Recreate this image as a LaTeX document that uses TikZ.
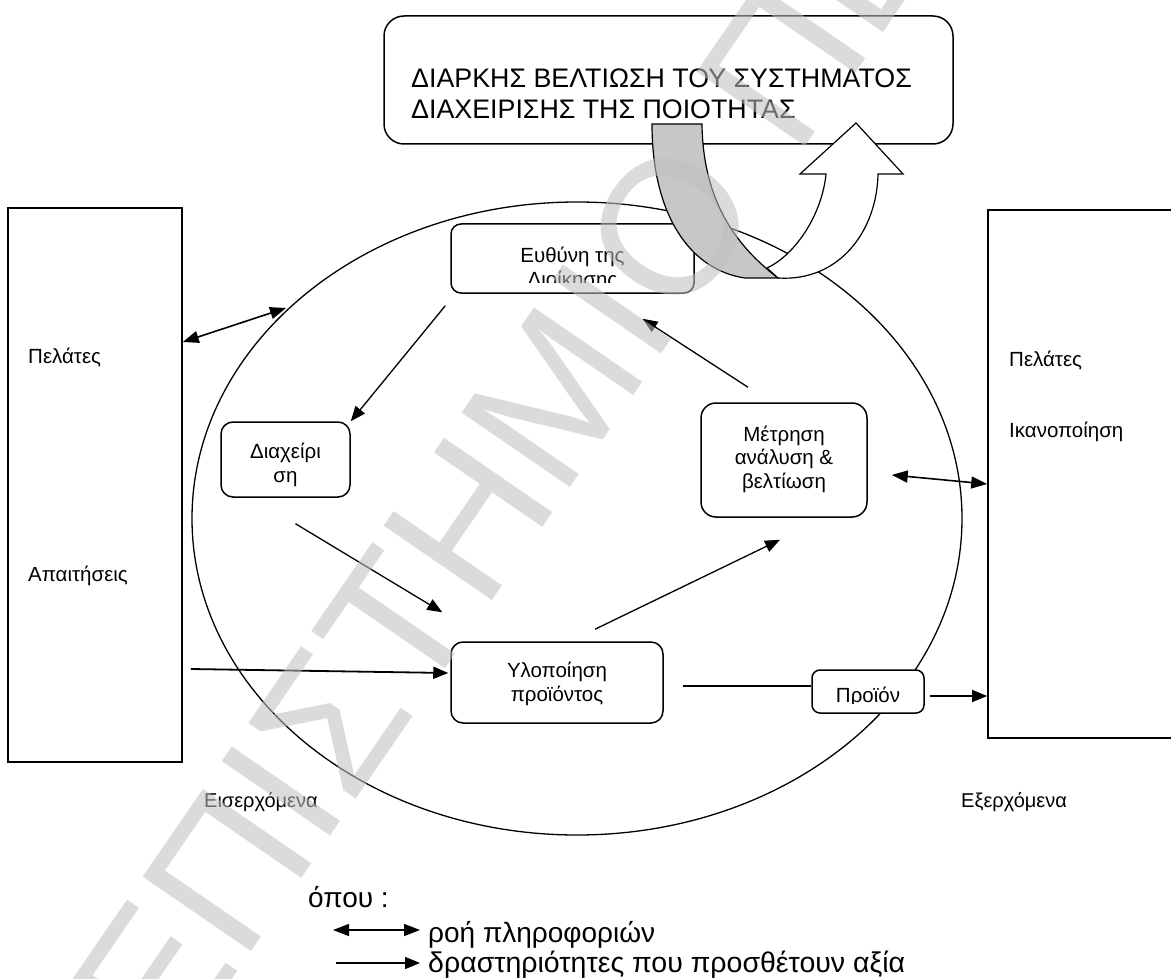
\documentclass[tikz,border=0pt]{standalone}
\usepackage{fontspec}
\setmainfont{Liberation Sans}
\usetikzlibrary{arrows.meta}

\definecolor{bandgray}{gray}{0.78}
\definecolor{markgray}{gray}{0.75}
\newcommand{\txtsize}{\fontsize{20.5}{23.5}\selectfont}

\begin{document}
\begin{tikzpicture}[x=1pt,y=-1pt,
    box/.style={draw, line width=1.5pt, fill=white, rounded corners=#1, inner sep=0pt},
    frame/.style={draw, line width=1.6pt, inner sep=0pt},
    lbl/.style={anchor=base west, inner sep=0pt, font=\txtsize},
    txt/.style={align=center, inner sep=0pt, font=\txtsize},
    flow/.style={line width=1.3pt, -{Triangle[length=15pt,width=12pt]}},
    info/.style={line width=1.6pt, {Triangle[length=16pt,width=12pt]}-{Triangle[length=16pt,width=12pt]}}]
    \clip (0,0) rectangle (1171,979);

    % title box
    \node[box=20pt, minimum width=569pt, minimum height=128pt] (title) at (668.5,80) {};
    \node[anchor=north west, align=left, inner sep=0pt, font=\fontsize{26.8}{31}\selectfont] (title-t) at (411,69)
        {ΔΙΑΡΚΗΣ ΒΕΛΤΙΩΣΗ ΤΟΥ ΣΥΣΤΗΜΑΤΟΣ\\ΔΙΑΧΕΙΡΙΣΗΣ ΤΗΣ ΠΟΙΟΤΗΤΑΣ};

    % the cycle
    \draw[line width=1.3pt] (577,518.5) ellipse [x radius=385, y radius=316.5];

    % customers left and right
    \node[frame, minimum width=174pt, minimum height=554pt] (lrect) at (95,485) {};
    \node[frame, minimum width=197pt, minimum height=528pt] (rrect) at (1086.5,474) {};
    \node[lbl] (pel-l) at (28,363) {Πελάτες};
    \node[lbl] (apait) at (28,581) {Απαιτήσεις};
    \node[lbl] (pel-r) at (1009,366) {Πελάτες};
    \node[lbl] (ikan) at (1009,437) {Ικανοποίηση};
    \node[lbl, font=\fontsize{20}{23}\selectfont] (eiser) at (204,807) {Εισερχόμενα};
    \node[lbl, font=\fontsize{20}{23}\selectfont] (exer) at (961,807) {Εξερχόμενα};

    % process boxes
    \node[box=10pt, minimum width=243pt, minimum height=69pt] (eythyni) at (572.5,258.5) {};
    \node[box=12pt, minimum width=129pt, minimum height=75pt] (diax) at (285.5,459.5) {};
    \node[box=15pt, minimum width=166pt, minimum height=114pt] (metr) at (784,460) {};
    \node[box=12pt, minimum width=212pt, minimum height=81pt] (ylop) at (557,682.5) {};
    \node[box=8pt, minimum width=112pt, minimum height=43pt] (proion) at (868,691.5) {};

    \begin{scope}
        \clip (eythyni.north west) rectangle ([shift={(0,-11)}]eythyni.south east);
        \node[txt] (eythyni-t) at (572.5,269) {Ευθύνη της\\Διοίκησης};
    \end{scope}
    \node[txt] (diax-t) at (285.5,465) {Διαχείρι\\ση};
    \node[txt] (metr-t) at (784,459) {Μέτρηση\\ανάλυση \&\\βελτίωση};
    \node[txt] (ylop-t) at (557,684) {Υλοποίηση\\προϊόντος};
    \begin{scope}
        \clip (proion.north west) rectangle ([shift={(0,-10)}]proion.south east);
        \node[txt, anchor=base] (proion-t) at (868,702) {Προϊόν};
    \end{scope}

    % arrows
    \coordinate (ellL) at (286,308);
    \draw[info] (lrect.east |- 0,342) -- (ellL);
    \draw[info] ([shift={(24,15)}]metr.east) -- ([shift={(0,10)}]rrect.west);
    \draw[flow] ([shift={(-5,12)}]eythyni.south west) -- (diax.north east);
    \draw[flow] ([shift={(10,26)}]diax.south) -- ([shift={(-8,-29)}]ylop.north west);
    \draw[flow] ([shift={(38,-12)}]ylop.north) -- ([shift={(-4,22)}]metr.south);
    \draw[flow] ([shift={(-36,-15)}]metr.north) -- ([shift={(70,25)}]eythyni.south);
    \draw[flow, line width=1.8pt] ([shift={(8,184)}]lrect.east) -- ([shift={(-2,-9.5)}]ylop.west);
    \draw[line width=1.3pt] ([shift={(19,3.5)}]ylop.east) -- ([shift={(0,-5.5)}]proion.west);
    \draw[flow] ([shift={(5,4.5)}]proion.east) -- ([shift={(0,222)}]rrect.west);

    % curved arrow
    \filldraw[fill=bandgray, line width=1.2pt] (652,124) .. controls (652,215) and (690,270) .. (745,278)
        -- (778,278) .. controls (735,245) and (703,200) .. (702,124) -- cycle;
    \filldraw[fill=white, line width=1.2pt] (778,278) .. controls (840,282) and (877,230) .. (878,174)
        -- (903,174) -- (856,123) -- (800,174) -- (826,174)
        .. controls (822,215) and (795,255) .. (767,268) -- cycle;

    % legend
    \node[lbl, font=\fontsize{28}{31}\selectfont] (opou) at (308,907) {όπου :};
    \node[lbl, font=\fontsize{28}{31}\selectfont] (lg1) at (428,942) {ροή πληροφοριών};
    \node[lbl, font=\fontsize{28.5}{31}\selectfont] (lg2) at (428,972) {δραστηριότητες που προσθέτουν αξία};
    \draw[info, line width=1.5pt] ([shift={(-95,-12)}]lg1.base west) -- ([shift={(-8,-12)}]lg1.base west);
    \draw[flow, line width=1.5pt] ([shift={(-92,-9)}]lg2.base west) -- ([shift={(-8,-9)}]lg2.base west);

    % watermark
    \node[rotate=55.5, anchor=base west, inner sep=0pt, text=markgray, text opacity=0.56,
        font=\fontsize{191}{191}\selectfont] (wmark) at (-58,1402) {ΠΑΝΕΠΙΣΤΗΜΙΟ ΠΕΙΡΑΙΑ};
\end{tikzpicture}
\end{document}
